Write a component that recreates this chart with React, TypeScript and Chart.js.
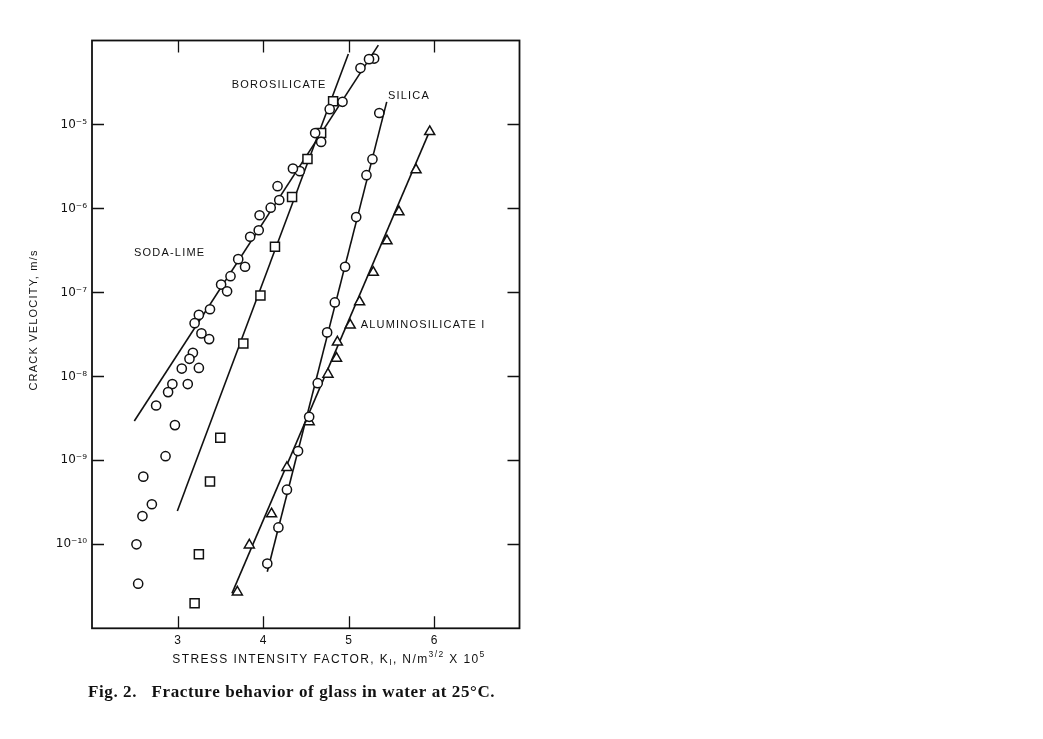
import React, { useEffect, useRef } from 'react';
import { Chart, registerables } from 'chart.js';
Chart.register(...registerables);

// ---- Data (K in N/m^3/2 x 10^5, crack velocity in m/s) ----
const sodaLimeK = [5.30, 5.24, 5.14, 4.93, 4.78, 4.61, 4.68, 4.43, 4.35, 4.17, 4.19, 4.09, 3.96, 3.95, 3.85, 3.71, 3.79, 3.62, 3.51, 3.58, 3.38, 3.25, 3.20, 3.28, 3.37, 3.18, 3.14, 3.05, 3.25, 2.94, 2.89, 3.12, 2.75, 2.97, 2.86, 2.60, 2.70, 2.59, 2.52, 2.54];
const sodaLimeV = [6.1e-5, 6.0e-5, 4.7e-5, 1.86e-5, 1.52e-5, 7.9e-6, 6.2e-6, 2.78e-6, 2.99e-6, 1.84e-6, 1.26e-6, 1.02e-6, 8.3e-7, 5.5e-7, 4.6e-7, 2.49e-7, 2.02e-7, 1.56e-7, 1.24e-7, 1.03e-7, 6.3e-8, 5.4e-8, 4.3e-8, 3.25e-8, 2.78e-8, 1.91e-8, 1.62e-8, 1.24e-8, 1.26e-8, 8.1e-9, 6.5e-9, 8.1e-9, 4.5e-9, 2.63e-9, 1.12e-9, 6.4e-10, 3.0e-10, 2.17e-10, 1.0e-10, 3.4e-11];

const borosilicateK = [4.82, 4.68, 4.52, 4.34, 4.14, 3.97, 3.77, 3.50, 3.38, 3.25, 3.20];
const borosilicateV = [1.89e-5, 7.9e-6, 3.89e-6, 1.37e-6, 3.49e-7, 9.2e-8, 2.47e-8, 1.86e-9, 5.6e-10, 7.6e-11, 1.99e-11];

const silicaK = [5.36, 5.28, 5.21, 5.09, 4.96, 4.84, 4.75, 4.64, 4.54, 4.41, 4.28, 4.18, 4.05];
const silicaV = [1.37e-5, 3.86e-6, 2.49e-6, 7.9e-7, 2.02e-7, 7.6e-8, 3.34e-8, 8.3e-9, 3.3e-9, 1.29e-9, 4.47e-10, 1.59e-10, 5.9e-11];

const aluminoK = [5.95, 5.79, 5.59, 5.45, 5.29, 5.13, 5.02, 4.87, 4.86, 4.76, 4.54, 4.28, 4.10, 3.84, 3.70];
const aluminoV = [8.2e-6, 2.88e-6, 9.1e-7, 4.11e-7, 1.73e-7, 7.7e-8, 4.08e-8, 2.56e-8, 1.64e-8, 1.06e-8, 2.88e-9, 8.2e-10, 2.3e-10, 9.8e-11, 2.7e-11];

// fitted lines (end points)
const sodaLimeFitK = [2.495, 5.349];
const sodaLimeFitV = [2.94e-9, 8.8e-5];
const borosilicateFitK = [2.998, 4.998];
const borosilicateFitV = [2.5e-10, 6.9e-5];
const silicaFitK = [4.05, 5.447];
const silicaFitV = [4.72e-11, 1.86e-5];
const aluminoFitK = [3.637, 5.945];
const aluminoFitV = [2.61e-11, 8.16e-6];

const xTickValues = [3, 4, 5, 6];
const yTickExponents = [-10, -9, -8, -7, -6, -5];

const seriesLabels = ['SODA-LIME', 'BOROSILICATE', 'SILICA', 'ALUMINOSILICATE I'];
const labelK = [2.491, 3.634, 5.462, 5.143];
const labelV = [2.94e-7, 2.94e-5, 2.17e-5, 4.08e-8];

const INK = '#111111';
const SANS = '"Liberation Sans", Arial, sans-serif';
const SUP: Record<string, string> = { '-': '\u207B', '0': '\u2070', '1': '\u00B9', '2': '\u00B2', '3': '\u00B3', '4': '\u2074', '5': '\u2075', '6': '\u2076', '7': '\u2077', '8': '\u2078', '9': '\u2079' };
const sup = (s: string) => s.split('').map((c) => SUP[c] || c).join('');

const pts = (k: number[], v: number[]) => k.map((x, i) => ({ x, y: v[i] }));

const markerDs = (label: string, k: number[], v: number[], style: string, radius: number) => ({
  type: 'scatter' as const,
  label,
  data: pts(k, v),
  pointStyle: style,
  pointRadius: radius,
  pointBorderWidth: 1.5,
  pointBorderColor: INK,
  pointBackgroundColor: '#ffffff',
  showLine: false,
  order: 0,
});

const lineDs = (label: string, k: number[], v: number[]) => ({
  type: 'line' as const,
  label,
  data: pts(k, v),
  borderColor: INK,
  borderWidth: 1.6,
  pointRadius: 0,
  fill: false,
  order: 1,
});

const decorPlugin = {
  id: 'decor',
  afterDraw(chart: any) {
    const { ctx, chartArea, scales } = chart;
    const { left, right, top, bottom } = chartArea;
    const x = scales.x;
    const y = scales.y;
    ctx.save();
    ctx.strokeStyle = INK;
    ctx.lineWidth = 1.8;
    ctx.strokeRect(left, top, right - left, bottom - top);
    ctx.lineWidth = 1.3;
    ctx.beginPath();
    xTickValues.forEach((t) => {
      const px = Math.round(x.getPixelForValue(t)) + 0.5;
      ctx.moveTo(px, bottom); ctx.lineTo(px, bottom - 12);
      ctx.moveTo(px, top); ctx.lineTo(px, top + 12);
    });
    yTickExponents.forEach((e) => {
      const py = Math.round(y.getPixelForValue(Math.pow(10, e))) + 0.5;
      ctx.moveTo(left, py); ctx.lineTo(left + 12, py);
      ctx.moveTo(right, py); ctx.lineTo(right - 12, py);
    });
    ctx.stroke();

    // in-plot series labels
    ctx.fillStyle = INK;
    ctx.font = '11px ' + SANS;
    (ctx as any).letterSpacing = '1.2px';
    ctx.textBaseline = 'middle';
    ctx.textAlign = 'left';
    seriesLabels.forEach((s, i) => {
      ctx.fillText(s, x.getPixelForValue(labelK[i]), y.getPixelForValue(labelV[i]));
    });

    // x axis title with sub/superscripts
    const base = '12px ' + SANS;
    const small = '8.5px ' + SANS;
    const segs: [string, string, number][] = [
      ['STRESS INTENSITY FACTOR, K', base, 0],
      ['I', small, 3],
      [', N/m', base, 0],
      ['3/2', small, -5],
      [' X 10', base, 0],
      ['5', small, -5],
    ];
    (ctx as any).letterSpacing = '1.4px';
    let total = 0;
    segs.forEach(([t, f]) => { ctx.font = f; total += ctx.measureText(t).width; });
    let cx = 329 - total / 2;
    const ty = 660;
    segs.forEach(([t, f, dy]) => {
      ctx.font = f;
      ctx.fillText(t, cx, ty + dy);
      cx += ctx.measureText(t).width;
    });

    // y axis title
    ctx.save();
    ctx.translate(34, 320);
    ctx.rotate(-Math.PI / 2);
    ctx.font = '11px ' + SANS;
    (ctx as any).letterSpacing = '1.2px';
    ctx.textAlign = 'center';
    ctx.fillText('CRACK VELOCITY, m/s', 0, 0);
    ctx.restore();

    // caption
    (ctx as any).letterSpacing = '0.6px';
    ctx.font = 'bold 17px "Liberation Serif", "DejaVu Serif", serif';
    ctx.textAlign = 'left';
    ctx.textBaseline = 'alphabetic';
    ctx.fillStyle = '#111';
    ctx.fillText('Fig. 2.   Fracture behavior of glass in water at 25\u00B0C.', 88, 697);
    ctx.restore();
  },
};

export default function App() {
  const ref = useRef<HTMLCanvasElement | null>(null);
  useEffect(() => {
    if (!ref.current) return;
    const chart = new Chart(ref.current, {
      type: 'scatter',
      data: {
        datasets: [
          markerDs('Soda-lime', sodaLimeK, sodaLimeV, 'circle', 4.6),
          markerDs('Borosilicate', borosilicateK, borosilicateV, 'rect', 6.4),
          markerDs('Silica', silicaK, silicaV, 'circle', 4.6),
          markerDs('Aluminosilicate I', aluminoK, aluminoV, 'triangle', 5.8),
          lineDs('Soda-lime fit', sodaLimeFitK, sodaLimeFitV),
          lineDs('Borosilicate fit', borosilicateFitK, borosilicateFitV),
          lineDs('Silica fit', silicaFitK, silicaFitV),
          lineDs('Aluminosilicate fit', aluminoFitK, aluminoFitV),
        ] as any,
      },
      options: {
        responsive: false,
        devicePixelRatio: 1,
        animation: false,
        layout: { padding: { left: 0, top: 40.5, right: 523.5, bottom: 70.7 } },
        plugins: { legend: { display: false }, tooltip: { enabled: false }, title: { display: false } },
        scales: {
          x: {
            type: 'linear',
            min: 2,
            max: 7,
            grid: { display: false, drawTicks: false },
            border: { display: false },
            afterBuildTicks: (s: any) => { s.ticks = xTickValues.map((v) => ({ value: v })); },
            afterFit: (s: any) => { s.height = 40; },
            ticks: {
              padding: 5,
              color: INK,
              font: { family: SANS, size: 12 },
              callback: (v: any) => String(v),
            },
          },
          y: {
            type: 'logarithmic',
            min: 1e-11,
            max: 1e-4,
            grid: { display: false, drawTicks: false },
            border: { display: false },
            afterBuildTicks: (s: any) => { s.ticks = yTickExponents.map((e) => ({ value: Math.pow(10, e) })); },
            afterFit: (s: any) => { s.width = 92; },
            ticks: {
              padding: 5,
              color: INK,
              font: { family: '"DejaVu Sans", sans-serif', size: 12 },
              callback: (v: any) => '10' + sup(String(Math.round(Math.log10(Number(v))))),
            },
          },
        },
      } as any,
      plugins: [decorPlugin],
    });
    return () => chart.destroy();
  }, []);
  return (
    <canvas
      ref={ref}
      width={1043}
      height={739}
      style={{ position: 'fixed', left: 0, top: 0, width: 1043, height: 739, background: '#fff' }}
    />
  );
}
